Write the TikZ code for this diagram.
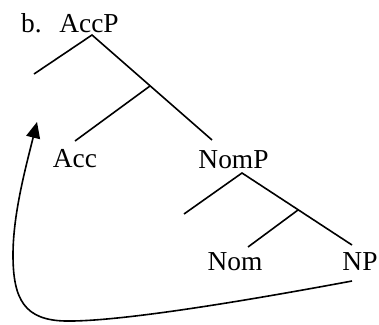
\documentclass[tikz,border=0pt]{standalone}
\usepackage{fontspec}
\setmainfont{Liberation Serif}
\usetikzlibrary{arrows.meta}
\begin{document}
\begin{tikzpicture}[x=1pt,y=-1pt,
  lbl/.style={inner sep=0pt,anchor=base,font=\fontsize{27.4}{30}\selectfont},
  branch/.style={line width=1.6pt},
  move/.style={line width=1.6pt,-{Triangle[length=16pt,width=14pt]}}]
\useasboundingbox (0,0) rectangle (379,324);
% labels
\node[lbl,anchor=base west] (b) at (21,32) {b.};
\node[lbl] (accp) at (89,32) {AccP};
\node[lbl] (acc) at (75,167) {Acc};
\node[lbl] (nomp) at (233.5,168) {NomP};
\node[lbl] (nom) at (235,270) {Nom};
\node[lbl] (np) at (360,270) {NP};
% tree points
\coordinate (a0) at (92,35);
\coordinate (spec1) at (34,74);
\coordinate (b1) at (150,86);
\coordinate (accT) at (75,141);
\coordinate (nompT) at (212,140);
\coordinate (n0) at (242,173);
\coordinate (spec2) at (184,214);
\coordinate (b2) at (298,210);
\coordinate (nomT) at (248,247);
\coordinate (npT) at (352,245);
\coordinate (npF) at (352,281);
\coordinate (c1) at (65,321);
\coordinate (c2) at (13,255);
\coordinate (tip) at (37,122);
% branches
\draw[branch] (spec1) -- (a0) -- (nompT);
\draw[branch] (b1) -- (accT);
\draw[branch] (spec2) -- (n0) -- (npT);
\draw[branch] (b2) -- (nomT);
% movement arrow
\draw[move] (npF) .. controls (250,300) and (120,322) .. (c1)
  .. controls (25,320) and (13,300) .. (c2)
  .. controls (13,215) and (25,170) .. (tip);
\end{tikzpicture}
\end{document}
